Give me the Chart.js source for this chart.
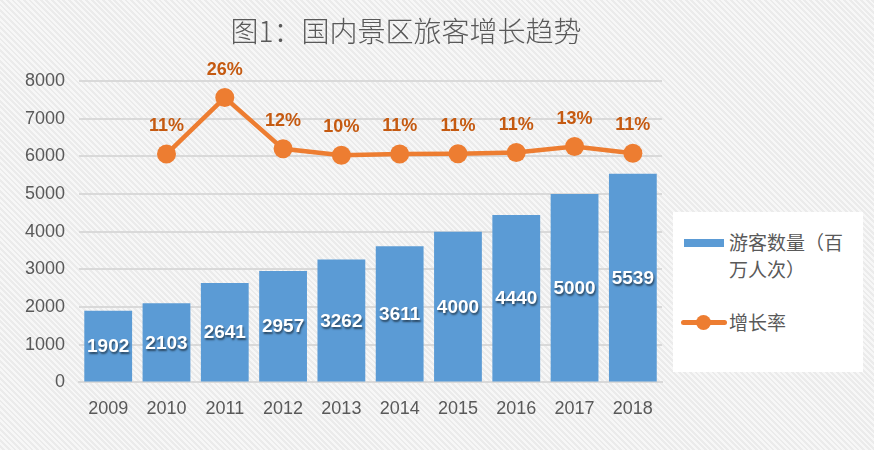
<!DOCTYPE html>
<html>
<head>
<meta charset="utf-8">
<script src="https://cdn.jsdelivr.net/npm/chart.js@4"></script>
<style>
  html, body { margin: 0; padding: 0; }
  body {
    width: 874px; height: 450px; overflow: hidden; position: relative;
    background: repeating-linear-gradient(45deg, #f7f7f7 0px, #f7f7f7 2px, #ebebeb 2px, #ebebeb 4px);
  }
  #wrap { position: absolute; left: 0; top: 0; width: 874px; height: 450px; }
  #title {
    position: absolute; left: 206px; top: 11px; width: 400px; text-align: center;
    font-family: "Noto Sans CJK SC", sans-serif; font-weight: 300; font-size: 28px; line-height: 38px;
    color: #595959;
  }
  #legend {
    position: absolute; left: 673px; top: 212px; width: 190px; height: 160px;
    background: #ffffff; font-family: "Noto Sans CJK SC", sans-serif; color: #595959; font-size: 19px;
  }
  .item { position: absolute; left: 0; width: 190px; }
  .txt { position: absolute; left: 56px; line-height: 27px; }
</style>
</head>
<body>
<div id="wrap"><canvas id="chart" width="874" height="450"></canvas></div>
<div id="title">图1：国内景区旅客增长趋势</div>
<div id="legend">
  <div class="item" style="top:16px">
    <div style="position:absolute;left:11px;top:11px;width:40px;height:8px;background:#5B9BD5"></div>
    <div class="txt" style="top:0">游客数量（百<br>万人次）</div>
  </div>
  <div class="item" style="top:96px">
    <div style="position:absolute;left:8px;top:12px;width:46px;height:5px;border-radius:3px;background:#ED7D31"></div>
    <div style="position:absolute;left:23px;top:7px;width:15px;height:15px;border-radius:50%;background:#ED7D31"></div>
    <div class="txt" style="top:0">增长率</div>
  </div>
</div>
<script>
// 数据
const years = ['2009', '2010', '2011', '2012', '2013', '2014', '2015', '2016', '2017', '2018'];
const visitors = [1902, 2103, 2641, 2957, 3262, 3611, 4000, 4440, 5000, 5539];
const growth = [null, 0.106, 0.256, 0.120, 0.103, 0.106, 0.107, 0.110, 0.126, 0.108];
const yTicks = [0, 1000, 2000, 3000, 4000, 5000, 6000, 7000, 8000];

// 柱子和折线上的数值标签
const valueLabels = {
  id: 'valueLabels',
  afterDatasetsDraw(chart) {
    const ctx = chart.ctx;
    ctx.save();
    ctx.textAlign = 'center';
    ctx.textBaseline = 'middle';

    // 柱子标签（白色带阴影）
    const barMeta = chart.getDatasetMeta(0);
    ctx.font = 'bold 19px "Liberation Sans", Arial, sans-serif';
    ctx.fillStyle = '#ffffff';
    ctx.shadowColor = 'rgba(0,0,0,0.55)';
    ctx.shadowOffsetX = 1;
    ctx.shadowOffsetY = 2;
    ctx.shadowBlur = 2;
    barMeta.data.forEach((bar, i) => {
      ctx.fillText(String(visitors[i]), bar.x, (bar.y + bar.base) / 2 + 1);
    });

    // 折线标签
    ctx.shadowColor = 'transparent';
    const lineMeta = chart.getDatasetMeta(1);
    ctx.font = 'bold 18px "Liberation Sans", Arial, sans-serif';
    ctx.fillStyle = '#C55A11';
    lineMeta.data.forEach((pt, i) => {
      if (growth[i] == null) return;
      ctx.fillText(Math.round(growth[i] * 100) + '%', pt.x, pt.y - 28);
    });
    ctx.restore();
  }
};

const ctx = document.getElementById('chart').getContext('2d');
new Chart(ctx, {
  data: {
    labels: years,
    datasets: [
      {
        type: 'bar',
        label: '游客数量（百万人次）',
        data: visitors,
        backgroundColor: '#5B9BD5',
        categoryPercentage: 1,
        barPercentage: 0.82,
        yAxisID: 'y',
        order: 1
      },
      {
        type: 'line',
        label: '增长率',
        data: growth,
        borderColor: '#ED7D31',
        backgroundColor: '#ED7D31',
        borderWidth: 4.5,
        pointRadius: 9.5,
        pointHoverRadius: 9.5,
        pointBackgroundColor: '#ED7D31',
        pointBorderWidth: 0,
        tension: 0,
        yAxisID: 'y1',
        order: 0
      }
    ]
  },
  options: {
    responsive: false,
    animation: false,
    layout: { padding: { left: 11, right: 212, top: 81, bottom: 22 } },
    plugins: {
      legend: { display: false },
      tooltip: { enabled: false },
      title: { display: false }
    },
    scales: {
      x: {
        grid: { display: false },
        border: { color: '#d9d9d9', width: 2 },
        ticks: {
          color: '#595959',
          font: { family: '"Liberation Sans", Arial, sans-serif', size: 18 },
          padding: 8
        }
      },
      y: {
        min: 0,
        max: 8000,
        afterBuildTicks: axis => { axis.ticks = yTicks.map(v => ({ value: v })); },
        grid: { color: '#d9d9d9', lineWidth: 2, drawTicks: false },
        border: { display: false },
        ticks: {
          color: '#595959',
          font: { family: '"Liberation Sans", Arial, sans-serif', size: 18 },
          padding: 14,
          callback: v => String(v)
        }
      },
      y1: {
        display: false,
        min: -0.5,
        max: 0.3
      }
    }
  },
  plugins: [valueLabels]
});
</script>
</body>
</html>
